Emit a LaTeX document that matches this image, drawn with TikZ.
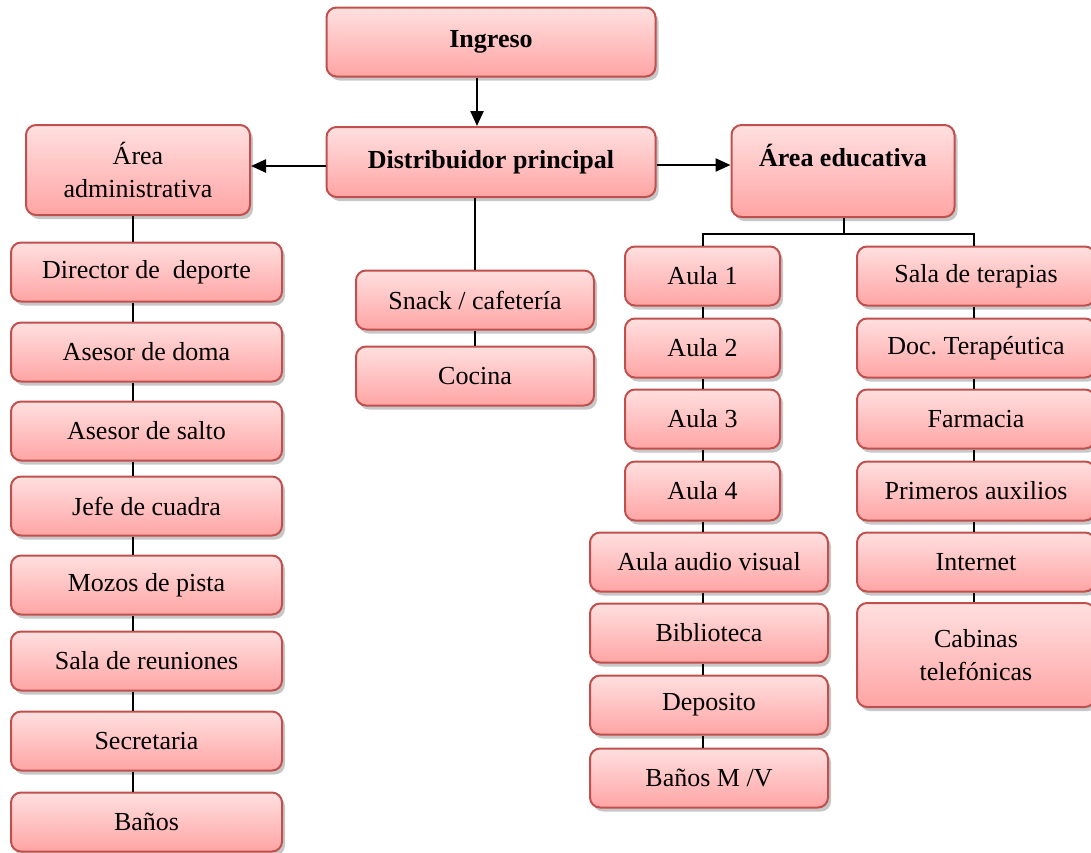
\documentclass[tikz,border=0pt]{standalone}
\usepackage{fontspec}
\setmainfont{Liberation Serif}
\usepackage{tikz}
\usetikzlibrary{arrows.meta, shadows, backgrounds}

\definecolor{boxtop}{RGB}{255,224,224}
\definecolor{boxbot}{RGB}{255,164,164}
\definecolor{boxline}{RGB}{192,80,77}

\begin{document}
\begin{tikzpicture}[
    x=0.5pt, y=-0.5pt,
    every node/.style={font=\fontsize{13}{16.5}\selectfont},
    box/.style={draw=boxline, line width=1pt, rounded corners=5pt, top color=boxtop, bottom color=boxbot,
      inner sep=0pt, align=center, minimum height=29.5pt,
      drop shadow={shadow xshift=1.5pt, shadow yshift=-2pt, fill=black, opacity=0.22}},
    lft/.style={box, minimum width=135.5pt},
    aul/.style={box, minimum width=77.5pt},
    wid/.style={box, minimum width=119pt},
    ln/.style={line width=1pt},
    arr/.style={-{Triangle[length=7.5pt, width=6.5pt]}, line width=1.2pt}
]
\useasboundingbox (0,0) rectangle (1091,852);

\node[box, minimum width=164.5pt, minimum height=34.5pt] (ing) at (491,42) {\textbf{Ingreso}};
\node[box, minimum width=164.5pt, minimum height=35pt] (dist) at (491,162) {\textbf{Distribuidor principal}};
\node[box, minimum width=112pt, minimum height=45pt] (adm) at (138,170) {Área\\administrativa};
\node[box, minimum width=111.5pt, minimum height=46pt, text height=9pt, text depth=14pt] (edu) at (843,171) {\textbf{Área educativa}};

% area administrativa
\node[lft] (dir) at (146.5,272) {Director de\ \ deporte};
\node[lft] (dom) at (146.5,352) {Asesor de doma};
\node[lft] (sal) at (146.5,431) {Asesor de salto};
\node[lft] (jef) at (146.5,506) {Jefe de cuadra};
\node[lft] (moz) at (146.5,585) {Mozos de pista};
\node[lft] (reu) at (146.5,661) {Sala de reuniones};
\node[lft] (sec) at (146.5,741) {Secretaria};
\node[lft] (ban) at (146.5,822) {Baños};

% servicios
\node[wid] (snk) at (475,300) {Snack / cafetería};
\node[wid] (coc) at (475,376) {Cocina};

% area educativa
\node[aul] (au1) at (702.5,276) {Aula 1};
\node[aul] (au2) at (702.5,348) {Aula 2};
\node[aul] (au3) at (702.5,419) {Aula 3};
\node[aul] (au4) at (702.5,491) {Aula 4};
\node[wid] (aav) at (709,562) {Aula audio visual};
\node[wid] (bib) at (709,633) {Biblioteca};
\node[wid] (dep) at (709,705) {Deposito};
\node[wid] (bmv) at (709,778) {Baños M /V};

\node[wid] (ter) at (976,276) {Sala de terapias};
\node[wid] (doc) at (976,348) {Doc.\ Terapéutica};
\node[wid] (far) at (976,419) {Farmacia};
\node[wid] (pri) at (976,491) {Primeros auxilios};
\node[wid] (int) at (976,562) {Internet};
\node[wid, minimum height=52pt] (cab) at (976,655) {Cabinas\\telefónicas};

\coordinate (lx) at (133,0);
\coordinate (ax) at (703,0);
\coordinate (tx) at (974,0);
\coordinate (bus) at (0,234);

\draw[arr] ([xshift=-7pt]ing.south) -- ([xshift=-7pt]dist.north);
\draw[arr] (dist.west |- 0,166) -- (adm.east |- 0,166);
\draw[arr] (dist.east |- 0,165) -- (edu.west |- 0,165);

\draw[ln] (dist.south -| snk) -- (snk.north);
\draw[ln] (snk) -- (coc);

\foreach \a/\b in {adm/dir, dir/dom, dom/sal, sal/jef, jef/moz, moz/reu, reu/sec, sec/ban}
  \draw[ln] (\a.south -| lx) -- (\b.north -| lx);

\draw[ln] ([xshift=0.5pt]edu.south) -- ([xshift=0.5pt]edu.south |- bus);
\draw[ln] (au1.north -| ax) -- (bus -| ax) -- (bus -| tx) -- (ter.north -| tx);

\foreach \a/\b in {au1/au2, au2/au3, au3/au4, au4/aav, aav/bib, bib/dep, dep/bmv}
  \draw[ln] (\a.south -| ax) -- (\b.north -| ax);
\foreach \a/\b in {ter/doc, doc/far, far/pri, pri/int, int/cab}
  \draw[ln] (\a.south -| tx) -- (\b.north -| tx);
\end{tikzpicture}
\end{document}
